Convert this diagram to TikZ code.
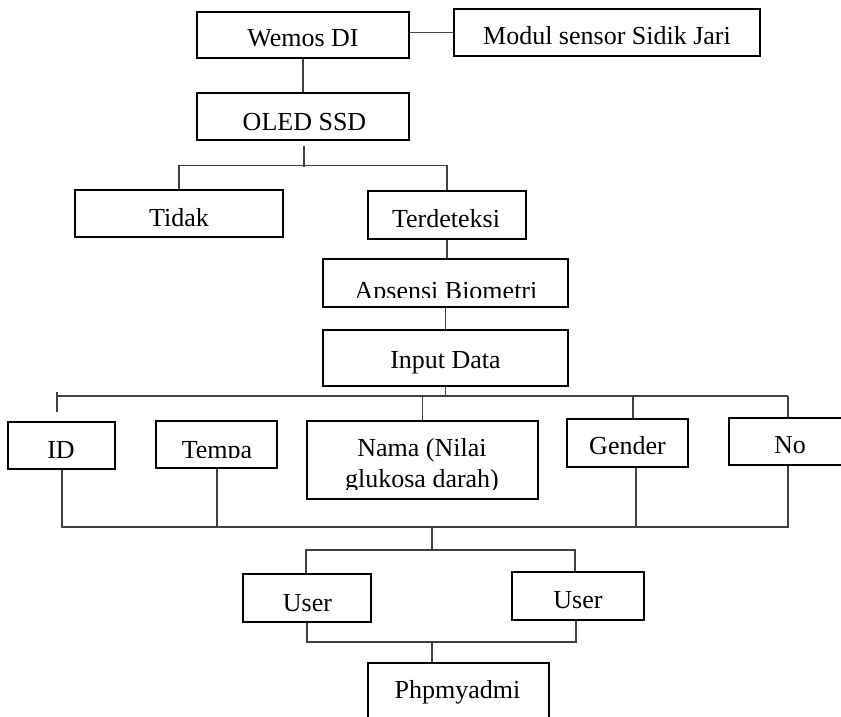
\documentclass[tikz,border=0pt]{standalone}
\usepackage{fontspec}
\setmainfont{Liberation Serif}
\begin{document}
\begin{tikzpicture}[x=1pt,y=-1pt,
  box/.style={draw=black, line width=2.7pt, fill=white, rectangle, inner sep=0pt},
  con/.style={draw=black!75, line width=1.4pt},
  txt/.style={anchor=base, inner sep=0pt, font=\fontsize{26}{30}\selectfont}]
\useasboundingbox (0,0) rectangle (841,717);
\clip (0,0) rectangle (841,717);

% boxes
\node[box, minimum width=212pt, minimum height=46pt] (wemos) at (303,35) {};
\node[box, minimum width=306pt, minimum height=47pt] (modul) at (607,32.5) {};
\node[box, minimum width=212pt, minimum height=47pt] (oled) at (303,116.5) {};
\node[box, minimum width=208pt, minimum height=47pt] (tidak) at (179,213.5) {};
\node[box, minimum width=158pt, minimum height=48pt] (terdet) at (447,215) {};
\node[box, minimum width=245pt, minimum height=48pt] (apsensi) at (445.5,283) {};
\node[box, minimum width=245pt, minimum height=56pt] (input) at (445.5,358) {};
\node[box, minimum width=107pt, minimum height=47pt] (id) at (61.5,445.5) {};
\node[box, minimum width=121pt, minimum height=47pt] (tempa) at (216.5,444.5) {};
\node[box, minimum width=231pt, minimum height=78pt] (nama) at (422.5,460) {};
\node[box, minimum width=121pt, minimum height=48pt] (gender) at (627.5,443) {};
\node[box, minimum width=122pt, minimum height=47pt] (no) at (790,441.5) {};
\node[box, minimum width=128pt, minimum height=48pt] (user1) at (307,598) {};
\node[box, minimum width=132pt, minimum height=48pt] (user2) at (578,596) {};
\node[box, minimum width=181pt, minimum height=67pt] (php) at (458.5,696.5) {};

% texts
\node[txt] (twemos) at (303,47) {Wemos DI};
\node[txt] (tmodul) at (607,45) {Modul sensor Sidik Jari};
\node[txt] (toled) at (304.5,130) {OLED SSD};
\node[txt] (ttidak) at (179,226) {Tidak};
\node[txt] (tterdet) at (446,227) {Terdeteksi};
\begin{scope}
  \clip (323,259) rectangle (568,297);
  \node[txt] (tapsensi) at (446,299) {Apsensi Biometri};
\end{scope}
\node[txt] (tinput) at (445.5,368) {Input Data};
\node[txt] (tid) at (61,458) {ID};
\begin{scope}
  \clip (156,421) rectangle (277,457.5);
  \node[txt] (ttempa) at (217,458) {Tempa};
\end{scope}
\node[txt] (tnama1) at (422,456) {Nama (Nilai};
\begin{scope}
  \clip (307,421) rectangle (538,489);
  \node[txt] (tnama2) at (422,487) {glukosa darah)};
\end{scope}
\node[txt] (tgender) at (627.5,454) {Gender};
\node[txt] (tno) at (790,453) {No};
\node[txt] (tuser1) at (307.5,611) {User};
\node[txt] (tuser2) at (578,608) {User};
\node[txt] (tphp) at (457.5,698) {Phpmyadmi};

% helper coordinates
\coordinate (ot) at (304,146);
\coordinate (b1) at (304,167);
\coordinate (busL) at (57,396);
\coordinate (busR) at (788,396);
\coordinate (tickA) at (57,392);
\coordinate (tickB) at (57,412);
\coordinate (gtop) at (633,396);
\coordinate (bbL) at (62,527);
\coordinate (bbR) at (788,527);
\coordinate (tb) at (217,527);
\coordinate (gb) at (636,527);
\coordinate (mid1) at (432,527);
\coordinate (ubus) at (432,550);
\coordinate (u1t) at (306,550);
\coordinate (u2t) at (575,550);
\coordinate (lbus) at (432,642);
\coordinate (l1) at (307,642);
\coordinate (l2) at (576,642);

% connectors
\draw[con] (wemos.east |- modul.west) -- (modul.west);
\draw[con] (wemos.south) -- (oled.north);
\draw[con] (ot) -- (b1);
\draw[con] (tidak.north) -- ++(0,-23) -| (terdet.north);
\draw[con] (terdet.south) -- (terdet.south |- apsensi.north);
\draw[con] (apsensi.south) -- (input.north);
\draw[con] (input.south) -- (input.south |- busL);
\draw[con] (busL) -- (busR);
\draw[con] (tickA) -- (tickB);
\draw[con] (nama.north |- busL) -- (nama.north);
\draw[con] (gtop) -- (gtop |- gender.north);
\draw[con] (busR) -- (busR |- no.north);
\draw[con] (bbL |- id.south) -- (bbL) -- (bbR) -- (bbR |- no.south);
\draw[con] (tb |- tempa.south) -- (tb);
\draw[con] (gb |- gender.south) -- (gb);
\draw[con] (mid1) -- (ubus);
\draw[con] (u1t |- user1.north) -- (u1t) -- (u2t) -- (u2t |- user2.north);
\draw[con] (l1 |- user1.south) -- (l1) -- (l2) -- (l2 |- user2.south);
\draw[con] (lbus) -- (lbus |- php.north);
\end{tikzpicture}
\end{document}
